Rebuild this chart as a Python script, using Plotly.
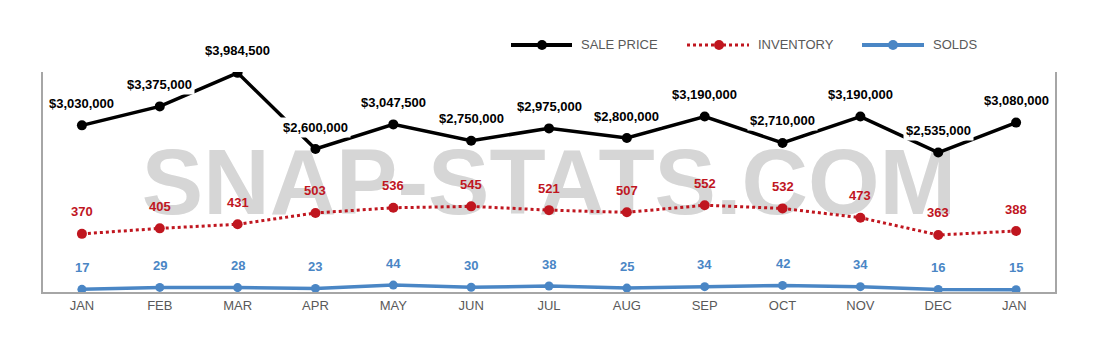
import plotly.graph_objects as go

months = ["JAN", "FEB", "MAR", "APR", "MAY", "JUN", "JUL", "AUG", "SEP", "OCT", "NOV", "DEC", "JAN "]
sale_price = [3030000, 3375000, 3984500, 2600000, 3047500, 2750000, 2975000, 2800000, 3190000, 2710000, 3190000, 2535000, 3080000]
inventory = [370, 405, 431, 503, 536, 545, 521, 507, 552, 532, 473, 363, 388]
solds = [17, 29, 28, 23, 44, 30, 38, 25, 34, 42, 34, 16, 15]
series_names = ["SALE PRICE", "INVENTORY", "SOLDS"]
watermark = "SNAP-STATS.COM"

FONT = "Liberation Sans, Arial, sans-serif"
BLACK = "#000000"
RED = "#c0161f"
BLUE = "#4a86c5"
GRAY_TXT = "#595959"
AXIS = "#a6a6a6"

fig = go.Figure()
# watermark behind everything
fig.add_trace(go.Scatter(x=["JUL"], y=[1840000], mode="text", showlegend=False, hoverinfo="skip",
                         text=[watermark], textposition="middle center", cliponaxis=False,
                         textfont=dict(family=FONT, size=92, color="#d6d6d6", weight="bold"),
                         yaxis="y"))
fig.add_trace(go.Scatter(x=months, y=sale_price, name=series_names[0], mode="lines+markers",
                         line=dict(color=BLACK, width=3.5), marker=dict(size=10, color=BLACK),
                         yaxis="y"))
fig.add_trace(go.Scatter(x=months, y=inventory, name=series_names[1], mode="lines+markers",
                         line=dict(color=RED, width=3, dash="dot"), marker=dict(size=10, color=RED),
                         yaxis="y2"))
fig.add_trace(go.Scatter(x=months, y=solds, name=series_names[2], mode="lines+markers",
                         line=dict(color=BLUE, width=3.5), marker=dict(size=9, color=BLUE),
                         yaxis="y2"))

annotations = []
for m, v in zip(months, sale_price):
    annotations.append(dict(x=m, y=v, xref="x", yref="y", text=f"${v:,}", showarrow=False,
                            yshift=22, bgcolor="white", borderpad=2,
                            font=dict(family=FONT, size=13, color=BLACK, weight="bold")))
for m, v in zip(months, inventory):
    annotations.append(dict(x=m, y=v, xref="x", yref="y2", text=str(v), showarrow=False,
                            yshift=22, font=dict(family=FONT, size=13, color=RED, weight="bold")))
for m, v in zip(months, solds):
    annotations.append(dict(x=m, y=v, xref="x", yref="y2", text=str(v), showarrow=False,
                            yshift=22, font=dict(family=FONT, size=13, color=BLUE, weight="bold")))

# manual legend (paper coords relative to plot area: 1012 x 220 px, origin at (43, 292))
L, B, W, H = 43, 292, 1012, 220
def px(x):
    return (x - L) / W
def py(y):
    return (B - y) / H

shapes = []
legend_items = [
    (series_names[0], BLACK, "solid", 4, 511, 572, 542, 579),
    (series_names[1], RED, "dot", 3, 687, 749, 719, 756),
    (series_names[2], BLUE, "solid", 4, 862, 924, 893, 931),
]
ly = 45
for name, col, dash, lw, x0, x1, xm, xt in legend_items:
    shapes.append(dict(type="line", xref="paper", yref="paper", x0=px(x0), x1=px(x1),
                       y0=py(ly), y1=py(ly), line=dict(color=col, width=lw, dash=dash)))
    shapes.append(dict(type="circle", xref="paper", yref="paper", xsizemode="pixel", ysizemode="pixel",
                       xanchor=px(xm), yanchor=py(ly), x0=-5, x1=5, y0=-5, y1=5,
                       fillcolor=col, line=dict(color=col, width=0)))
    annotations.append(dict(x=px(xt), y=py(ly), xref="paper", yref="paper", text=name,
                            showarrow=False, xanchor="left", yanchor="middle",
                            font=dict(family=FONT, size=13, color=GRAY_TXT)))

fig.update_layout(
    width=1099, height=352,
    margin=dict(l=43, r=44, t=72, b=60),
    paper_bgcolor="white", plot_bgcolor="white",
    showlegend=False,
    xaxis=dict(type="category", categoryorder="array", categoryarray=months,
               range=[-0.5, 12.5], showgrid=False, showline=True,
               linecolor=AXIS, linewidth=2, ticks="", fixedrange=True,
               tickfont=dict(family=FONT, size=13, color=GRAY_TXT)),
    yaxis=dict(range=[0, 4000000], showgrid=False, showline=True, linecolor=AXIS,
               linewidth=2, showticklabels=False, ticks="", zeroline=False),
    yaxis2=dict(range=[0, 1400], overlaying="y", side="right", showgrid=False, showline=True,
                linecolor=AXIS, linewidth=2, showticklabels=False, ticks="", zeroline=False),
    annotations=annotations,
    shapes=shapes,
)

fig.write_html("out.html")
